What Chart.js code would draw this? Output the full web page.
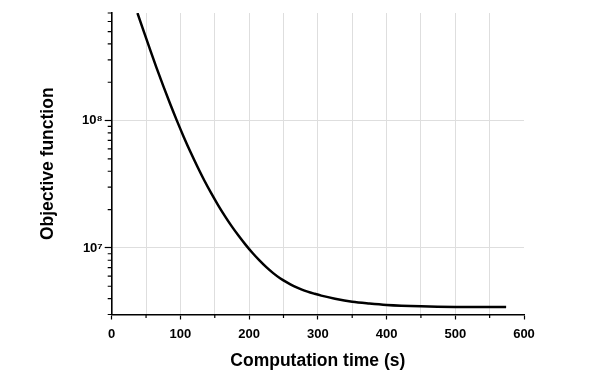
<!DOCTYPE html>
<html>
<head>
<meta charset="utf-8">
<script src="https://cdn.jsdelivr.net/npm/chart.js@4/dist/chart.umd.min.js"></script>
<style>
  html,body{margin:0;padding:0;background:#fff;}
  #wrap{width:600px;height:383px;}
</style>
</head>
<body>
<div id="wrap"><canvas id="chartObj" width="600" height="383"></canvas></div>
<script>
// === data ===
const timeSec = [37.5, 45, 55, 65, 75, 85, 95, 105, 115, 125, 135, 145, 155, 165, 175, 185, 195, 205, 215, 225, 235, 245, 255, 265, 275, 285, 295, 305, 325, 350, 375, 400, 450, 500, 574];
const objValue = [7.0e8, 5.32e8, 3.72e8, 2.62e8, 1.875e8, 1.355e8, 9.95e7, 7.41e7, 5.61e7, 4.32e7, 3.37e7, 2.68e7, 2.16e7, 1.77e7, 1.47e7, 1.24e7, 1.057e7, 9.12e6, 7.98e6, 7.06e6, 6.34e6, 5.78e6, 5.36e6, 5.02e6, 4.75e6, 4.54e6, 4.37e6, 4.22e6, 3.99e6, 3.78e6, 3.66e6, 3.57e6, 3.48e6, 3.44e6, 3.43e6];

const xTickValues = [0, 50, 100, 150, 200, 250, 300, 350, 400, 450, 500, 550, 600];
const xLabels = ["0", "100", "200", "300", "400", "500", "600"];
const yTickValues = [3e6, 4e6, 5e6, 6e6, 7e6, 8e6, 9e6, 1e7, 2e7, 3e7, 4e7, 5e7, 6e7, 7e7, 8e7, 9e7, 1e8, 2e8, 3e8, 4e8, 5e8, 6e8, 7e8];
const yMajor = {1e7: "10\u2077", 1e8: "10\u2078"};

const FONT = "'Liberation Sans', Arial, sans-serif";
const GRID = "#dedede";

// minor tick marks, shorter than major ones
const minorTicks = {
  id: "minorTicks",
  afterDraw(chart){
    const {ctx, chartArea:ca, scales:{x, y}} = chart;
    ctx.save();
    ctx.strokeStyle = "#000"; ctx.lineWidth = 1.2;
    ctx.beginPath();
    xTickValues.filter(v => v % 100 !== 0).forEach(v => {
      const px = x.getPixelForValue(v);
      ctx.moveTo(px, ca.bottom); ctx.lineTo(px, ca.bottom + 3.5);
    });
    yTickValues.filter(v => !yMajor[v]).forEach(v => {
      const py = y.getPixelForValue(v);
      ctx.moveTo(ca.left, py); ctx.lineTo(ca.left - 4, py);
    });
    ctx.stroke();
    ctx.restore();
  }
};

new Chart(document.getElementById("chartObj"), {
  type: "line",
  data: {
    datasets: [{
      data: timeSec.map((t, i) => ({x: t, y: objValue[i]})),
      borderColor: "#000",
      borderWidth: 2.5,
      pointRadius: 0,
      cubicInterpolationMode: "monotone",
      fill: false
    }]
  },
  options: {
    responsive: false,
    animation: false,
    layout: {padding: {left: 0, right: 76, top: 13, bottom: 0}},
    plugins: {legend: {display: false}, tooltip: {enabled: false}},
    scales: {
      x: {
        type: "linear", min: 0, max: 600,
        afterBuildTicks: s => { s.ticks = xTickValues.map(v => ({value: v})); },
        afterFit: s => { s.height = 68.5; },
        grid: {
          color: c => (c.tick && (c.tick.value === 600 || c.tick.value === 0)) ? "rgba(0,0,0,0)" : GRID,
          lineWidth: 1,
          tickLength: 5,
          tickColor: c => (c.tick && c.tick.value % 100 === 0) ? "#000" : "rgba(0,0,0,0)",
          tickWidth: 1.2
        },
        border: {color: "#000", width: 1.6},
        ticks: {
          autoSkip: false, maxRotation: 0, padding: 7,
          color: "#000",
          font: {family: FONT, size: 13, weight: "bold"},
          callback: v => xLabels.includes(String(v)) ? String(v) : ""
        },
        title: {
          display: true, text: "Computation time (s)", color: "#000",
          font: {family: FONT, size: 17.5, weight: "bold"},
          padding: {top: 0, bottom: 11}
        }
      },
      y: {
        type: "logarithmic", min: 3e6, max: 7e8,
        afterBuildTicks: s => { s.ticks = yTickValues.map(v => ({value: v})); },
        afterFit: s => { s.width = 111.7; },
        grid: {
          color: c => (c.tick && yMajor[c.tick.value]) ? GRID : "rgba(0,0,0,0)",
          lineWidth: 1,
          tickLength: 7,
          tickColor: c => (c.tick && yMajor[c.tick.value]) ? "#000" : "rgba(0,0,0,0)",
          tickWidth: 1.2
        },
        border: {color: "#000", width: 1.6},
        ticks: {
          autoSkip: false, padding: 2,
          color: "#000",
          font: {family: FONT, size: 13, weight: "bold"},
          callback: v => yMajor[v] || ""
        },
        title: {
          display: true, text: "Objective function", color: "#000",
          font: {family: FONT, size: 17.5, weight: "bold"},
          padding: {top: 38, bottom: 0}
        }
      }
    }
  },
  plugins: [minorTicks]
});
</script>
</body>
</html>
